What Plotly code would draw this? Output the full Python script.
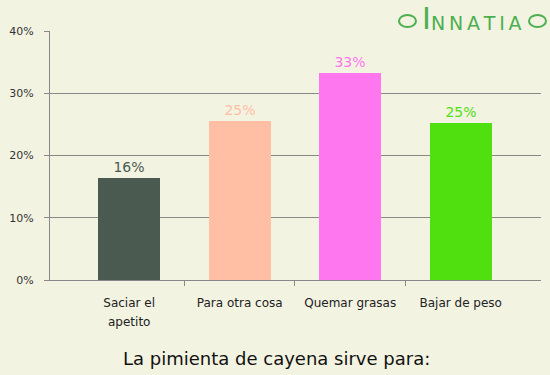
import plotly.graph_objects as go

categories = ["Saciar el", "Para otra cosa", "Quemar grasas", "Bajar de peso"]
category_second_lines = ["apetito", "", "", ""]
values = [16.4, 25.5, 33.2, 25.2]
value_labels = ["16%", "25%", "33%", "25%"]
colors = ["#4a5a50", "#ffbfa5", "#ff77ee", "#50e010"]
y_ticks = [0, 10, 20, 30, 40]
y_tick_labels = ["0%", "10%", "20%", "30%", "40%"]
title_text = "La pimienta de cayena sirve para:"
logo_initial = "I"
logo_rest = "N\u2009N\u2009A\u2009T\u2009I\u2009A"

bg = "#f3f3e2"
axis_col = "#888888"
logo_col = "#4caf50"
x_pos = list(range(len(categories)))


def py(px):
    return (280 - px) / 249


def pxx(px):
    return (px - 50) / 491


fig = go.Figure()
fig.add_trace(go.Bar(
    x=x_pos, y=values, width=0.56,
    marker=dict(color=colors, line=dict(width=0)),
    text=value_labels, textposition="outside", cliponaxis=False,
    textfont=dict(family="DejaVu Sans", size=14, color=colors),
    hoverinfo="skip",
))

annotations = [
    dict(text=title_text, xref="paper", yref="paper", x=pxx(276), y=py(358),
         xanchor="center", yanchor="middle", showarrow=False,
         font=dict(family="DejaVu Sans", size=18, color="#111111")),
    dict(text=logo_initial, xref="paper", yref="paper",
         x=pxx(420), y=py(18.5), xanchor="left", yanchor="middle", showarrow=False,
         font=dict(family="DejaVu Sans", size=30, color=logo_col)),
    dict(text=logo_rest, xref="paper", yref="paper",
         x=pxx(429), y=py(23), xanchor="left", yanchor="middle", showarrow=False,
         font=dict(family="DejaVu Sans", size=19, color=logo_col)),
]
for xi, line2 in zip(x_pos, category_second_lines):
    if line2:
        annotations.append(dict(text=line2, x=xi, xref="x", yref="paper",
                                y=py(322), xanchor="center", yanchor="middle",
                                showarrow=False,
                                font=dict(family="DejaVu Sans", size=12, color="#222222")))

fig.update_layout(
    width=550, height=375,
    paper_bgcolor=bg, plot_bgcolor=bg,
    margin=dict(l=50, r=9, t=31, b=95),
    showlegend=False,
    bargap=0,
    font=dict(family="DejaVu Sans", color="#222222"),
    xaxis=dict(
        range=[-0.716, 3.726],
        tickmode="array", tickvals=x_pos, ticktext=categories,
        ticks="outside", ticklen=12, tickcolor="rgba(0,0,0,0)", showgrid=False, zeroline=False,
        showline=True, linecolor=axis_col, linewidth=1,
        tickfont=dict(size=12, color="#222222"),
        minor=dict(tickmode="array", tickvals=[0.5, 1.5, 2.5], ticks="outside",
                   ticklen=5, tickcolor=axis_col, showgrid=False),
        fixedrange=True,
    ),
    yaxis=dict(
        range=[0, 40],
        tickmode="array", tickvals=y_ticks, ticktext=y_tick_labels,
        ticks="outside", ticklen=5, tickcolor=axis_col,
        ticklabelstandoff=8,
        showgrid=True, gridcolor=axis_col, gridwidth=1,
        zeroline=False, showline=True, linecolor=axis_col, linewidth=1,
        tickfont=dict(size=11, color="#333333"),
        fixedrange=True,
    ),
    annotations=annotations,
    shapes=[
        dict(type="circle", xref="paper", yref="paper",
             x0=pxx(399), x1=pxx(416), y0=py(27), y1=py(15),
             line=dict(color=logo_col, width=2)),
        dict(type="circle", xref="paper", yref="paper",
             x0=pxx(529), x1=pxx(546), y0=py(27), y1=py(15),
             line=dict(color=logo_col, width=2)),
    ],
)

fig.write_html("out.html", config={"displayModeBar": False},
               post_script="document.body.style.margin='0';document.body.style.background='#f3f3e2';")
